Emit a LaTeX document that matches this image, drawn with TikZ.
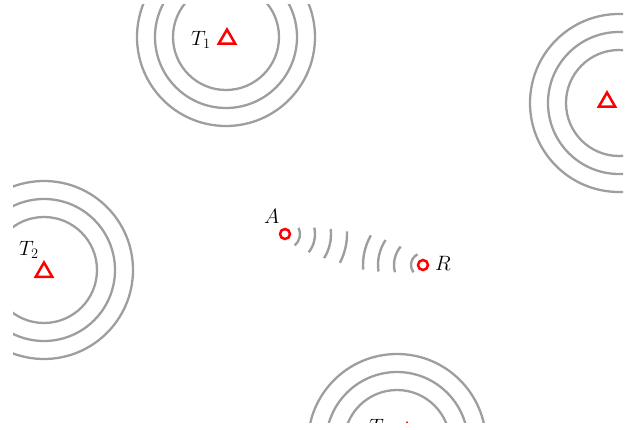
\documentclass[tikz,border=0pt]{standalone}
\usetikzlibrary{shapes.geometric}
\begin{document}
\begin{tikzpicture}[x=1pt,y=1pt,
  ring/.style={draw=black!38, line width=2.3pt},
  wave/.style={draw=black!38, line width=2.4pt},
  tx/.style={regular polygon, regular polygon sides=3, draw=red, line width=2.5pt, minimum size=19pt, inner sep=0pt},
  rx/.style={circle, draw=red, line width=2.5pt, minimum size=10pt, inner sep=0pt},
  lbl/.style={inner sep=0pt, font=\fontsize{20.5}{23}\selectfont}]
\useasboundingbox (0,0) rectangle (626,429);
\clip (13,7) rectangle (623,424);
% ring centres
\coordinate (c1) at (226,392);
\coordinate (c2) at (44,159);
\coordinate (c3) at (619,326);
\coordinate (c4) at (397,-14);
\foreach \c in {c1,c2,c3,c4}{
  \foreach \r in {53,71,89}{
    \draw[ring] (\c) circle[radius=\r];
  }
}
% transmitters
\node[tx] (T1) at (227,390) {};
\node[tx] (T2) at (44,157) {};
\node[tx] (T3) at (607,327) {};
\node[tx] (T4) at (407,-4) {};
\node[lbl, anchor=base west] (l1) at (191,383.5) {$T_1$};
\node[lbl, anchor=base west] (l2) at (19,173.5) {$T_2$};
\node[lbl, anchor=base west] (l4) at (369,-4) {$T_3$};
% receivers
\node[rx] (A) at (285,195) {};
\node[rx] (R) at (423,164) {};
\node[lbl, anchor=base west] (lA) at (264,206) {$A$};
\node[lbl, anchor=base west] (lR) at (435,159) {$R$};
% waves
\foreach \r/\a in {15/37,30/25,46/19,62/15}{
  \draw[wave] ([shift={(-12.66-\a:\r)}]A.center) arc[start angle=-12.66-\a, end angle=-12.66+\a, radius=\r];
}
\foreach \r/\a in {12/50,29/27,45/21,60/17}{
  \draw[wave] ([shift={(167.34-\a:\r)}]R.center) arc[start angle=167.34-\a, end angle=167.34+\a, radius=\r];
}
\end{tikzpicture}
\end{document}
